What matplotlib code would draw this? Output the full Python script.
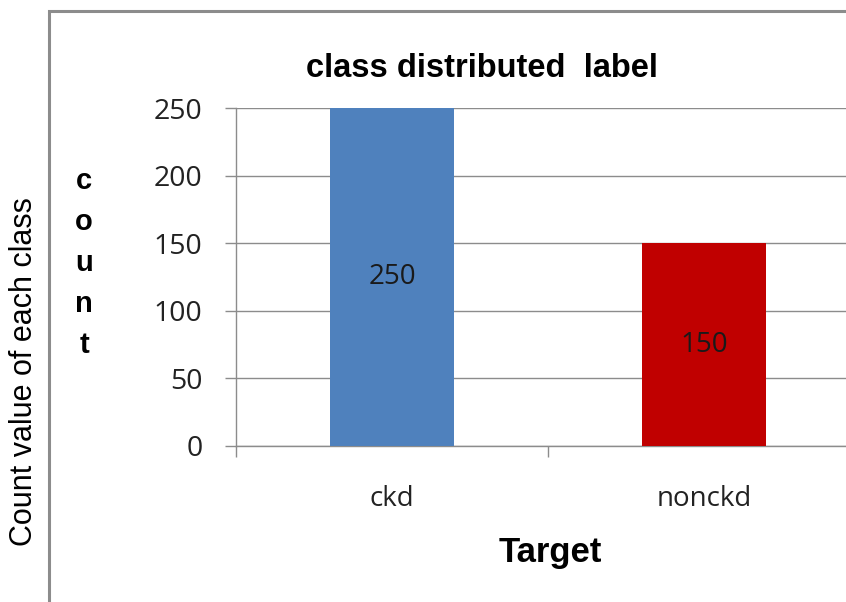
import matplotlib
matplotlib.use("Agg")
import matplotlib.pyplot as plt
from matplotlib.patches import Rectangle

categories = ["ckd", "nonckd"]
counts = [250, 150]
bar_colors = ["#4F81BD", "#C00000"]
yticks = [0, 50, 100, 150, 200, 250]

W, H = 846, 602
fig = plt.figure(figsize=(W / 100, H / 100), dpi=100)
fig.patch.set_facecolor("white")

# outer chart frame (right/bottom edges fall outside the picture)
fig.add_artist(Rectangle((49 / W, -0.05), 1.2, 1 - 11 / H + 0.05,
                         transform=fig.transFigure, fill=False,
                         edgecolor="#8C8C8C", linewidth=2.2))

left, right = 236 / W, 860 / W
bottom, top = 1 - 446 / H, 1 - 108 / H
ax = fig.add_axes([left, bottom, right - left, top - bottom])
ax.set_facecolor("none")

tick_font = "Open Sans"
x = list(range(len(categories)))
ax.bar(x, counts, width=0.395, color=bar_colors, zorder=3)
ax.set_xlim(-0.5, 1.5)
ax.set_ylim(0, 250)

ax.set_yticks(yticks)
ax.set_yticklabels([str(v) for v in yticks], fontfamily=tick_font, fontsize=20.5,
                   color="#222222")
ax.yaxis.grid(True, color="#8C8C8C", linewidth=1.0, zorder=0)
ax.tick_params(axis="y", length=8, width=1, color="#8C8C8C", pad=16)

ax.set_xticks(x)
ax.set_xticklabels(categories, fontfamily=tick_font, fontsize=20, color="#222222")
ax.set_xticks([-0.5, 0.5, 1.5], minor=True)
ax.tick_params(axis="x", which="major", length=0, pad=28)
ax.tick_params(axis="x", which="minor", length=8, width=1, color="#8C8C8C")

for s in ["top", "right"]:
    ax.spines[s].set_visible(False)
for s in ["left", "bottom"]:
    ax.spines[s].set_color("#8C8C8C")
    ax.spines[s].set_linewidth(1.0)

for xi, v in zip(x, counts):
    ax.text(xi, v / 2, str(v), ha="center", va="center",
            fontfamily=tick_font, fontsize=20, color="#1a1a1a", zorder=4)

fig.text(482 / W, 1 - 77 / H, "class distributed  label", ha="center", va="baseline",
         fontfamily="Liberation Sans", fontweight="bold", fontsize=23.5)
fig.text(84 / W, 1 - 263 / H, "c\no\nu\nn\nt", ha="center", va="center",
         fontfamily="Liberation Sans", fontweight="bold", fontsize=21,
         linespacing=1.58)
fig.text(24 / W, 1 - 372 / H, "Count value of each class", ha="center", va="center",
         rotation=90, fontfamily="Liberation Sans", fontsize=22)
fig.text(550 / W, 1 - 562 / H, "Target", ha="center", va="baseline",
         fontfamily="Liberation Sans", fontweight="bold", fontsize=25)

fig.savefig("out.png", dpi=100)
